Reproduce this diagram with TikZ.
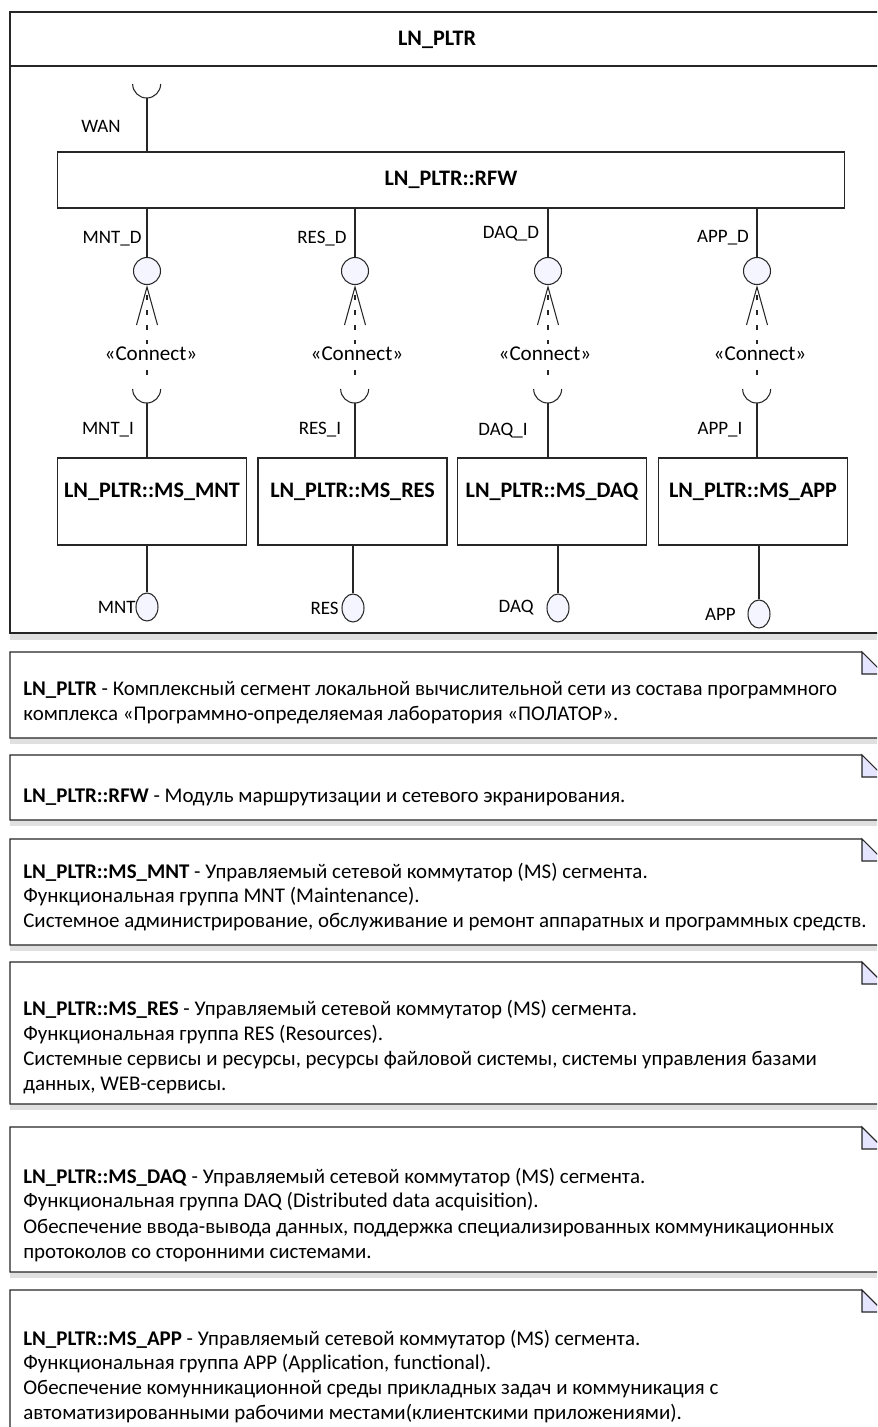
\documentclass[tikz,border=0pt]{standalone}
\usepackage{fontspec}
\setmainfont{Carlito}
\usetikzlibrary{arrows.meta,shapes.geometric}

\begin{document}
\begin{tikzpicture}
    [%%%%%%%%%%%%%%%%%%%%%%%%%%%%%%
        x=0.02cm, y=-0.02cm,
        line/.style={draw=black!85, semithick},
        box/.style={rectangle, draw=black!85, semithick, fill=white, inner sep=0pt, font=\fontsize{12.6}{14}\selectfont\bfseries},
        msbox/.style={box, minimum width=3.78cm, text height=0.78cm, text depth=0.96cm},
        ball/.style={circle, draw=black!85, semithick, fill=blue!4, minimum size=0.54cm, inner sep=0pt},
        oval/.style={ellipse, draw=black!85, semithick, fill=blue!4, minimum width=0.44cm, minimum height=0.56cm, inner sep=0pt},
        cup/.style={circle, minimum size=0.56cm, inner sep=0pt},
        lbl/.style={inner sep=0pt, font=\fontsize{10.8}{12}\selectfont},
        conn/.style={inner sep=1.5pt, fill=white, font=\fontsize{12}{14}\selectfont},
        dep/.style={draw=black!85, semithick, dash pattern=on 0.1cm off 0.2cm, -{Straight Barb[length=0.76cm, width=0.42cm]}},
        note/.style={draw=black!85, semithick, fill=white},
        fold/.style={draw=black!85, semithick, fill=blue!10},
        shade/.style={fill=black!12},
        notetxt/.style={anchor=west, inner sep=0pt, text height=1.6ex, text depth=0.4ex, font=\fontsize{11.9}{13}\selectfont},
    ]%%%%%%%%%%%%%%%%%%%%%%%%%%%%%%
\useasboundingbox (0,0) rectangle (877,1427);
\clip (0,0) rectangle (877,1427);
\fill[white] (0,0) rectangle (877,1427);

% component frame
\fill[shade] (10,633) rectangle (884,640);
\draw[line] (10,12) rectangle (884,633);
\draw[line] (10,66) -- (884,66);
\node[font=\fontsize{12.6}{14}\selectfont\bfseries] (title) at (437,40) {LN\_PLTR};

% router
\node[box, minimum width=15.76cm, minimum height=1.12cm] (rfw) at (451,180) {LN\_PLTR::RFW};
\node[cup] (wanI) at (147,84) {};
\draw[line] (wanI.west) arc[start angle=180, end angle=0, radius=14];
\draw[line] (wanI.south) -- (wanI.south |- rfw.north);
\node[lbl] (wanL) at (101,126) {WAN};

% switches
\node[msbox] (mnt) at (152,501.5) {LN\_PLTR::MS\_MNT};
\node[msbox] (res) at (352.5,501.5) {LN\_PLTR::MS\_RES};
\node[msbox] (daq) at (552,501.5) {LN\_PLTR::MS\_DAQ};
\node[msbox] (app) at (753,501.5) {LN\_PLTR::MS\_APP};

% provided ports of the router
\node[ball] (mntD) at (147,271) {};
\node[ball] (resD) at (355,271) {};
\node[ball] (daqD) at (548,271) {};
\node[ball] (appD) at (757,271) {};
\draw[line] (rfw.south -| mntD) -- (mntD);
\draw[line] (rfw.south -| resD) -- (resD);
\draw[line] (rfw.south -| daqD) -- (daqD);
\draw[line] (rfw.south -| appD) -- (appD);
\node[lbl] (mntDl) at (112,239) {MNT\_D};
\node[lbl] (resDl) at (322,239) {RES\_D};
\node[lbl] (daqDl) at (511,234) {DAQ\_D};
\node[lbl] (appDl) at (723,238) {APP\_D};

% required ports of the switches
\node[cup] (mntI) at (147,389) {};
\node[cup] (resI) at (355,389) {};
\node[cup] (daqI) at (548,389) {};
\node[cup] (appI) at (757,389) {};
\draw[line] (mntI.west) arc[start angle=180, end angle=0, radius=14];
\draw[line] (resI.west) arc[start angle=180, end angle=0, radius=14];
\draw[line] (daqI.west) arc[start angle=180, end angle=0, radius=14];
\draw[line] (appI.west) arc[start angle=180, end angle=0, radius=14];
\draw[line] (mntI.south) -- (mntI.south |- mnt.north);
\draw[line] (resI.south) -- (resI.south |- res.north);
\draw[line] (daqI.south) -- (daqI.south |- daq.north);
\draw[line] (appI.south) -- (appI.south |- app.north);
\node[lbl] (mntIl) at (108,430) {MNT\_I};
\node[lbl] (resIl) at (320,430) {RES\_I};
\node[lbl] (daqIl) at (503,431) {DAQ\_I};
\node[lbl] (appIl) at (720,430) {APP\_I};

% connect dependencies
\draw[dep] (mntI) -- (mntD);
\draw[dep] (resI) -- (resD);
\draw[dep] (daqI) -- (daqD);
\draw[dep] (appI) -- (appD);
\node[conn] (mntC) at (151,354) {«Connect»};
\node[conn] (resC) at (357,354) {«Connect»};
\node[conn] (daqC) at (545,354) {«Connect»};
\node[conn] (appC) at (760,354) {«Connect»};

% external ports
\node[oval] (mntO) at (147,607) {};
\node[oval] (resO) at (353,608) {};
\node[oval] (daqO) at (558,608) {};
\node[oval] (appO) at (759,614) {};
\draw[line] (mnt.south -| mntO) -- (mntO);
\draw[line] (res.south -| resO) -- (resO);
\draw[line] (daq.south -| daqO) -- (daqO);
\draw[line] (app.south -| appO) -- (appO);
\node[lbl, anchor=east] (mntOl) at (136,607) {MNT};
\node[lbl, anchor=east] (resOl) at (339,608) {RES};
\node[lbl, anchor=east] (daqOl) at (534,608) {DAQ};
\node[lbl, anchor=east] (appOl) at (736,614) {APP};

% notes
\fill[shade] (10,738) rectangle (884,744);
\draw[note] (10,652) -- (862,652) -- (884,674) -- (884,738) -- (10,738) -- cycle;
\draw[fold] (862,652) -- (862,674) -- (884,674) -- cycle;
\node[notetxt] (n1a) at (23,690) {\textbf{LN\_PLTR} - Комплексный сегмент локальной вычислительной сети из состава программного};
\node[notetxt] (n1b) at (23,715) {комплекса «Программно-определяемая лаборатория «ПОЛАТОР».};

\fill[shade] (10,820) rectangle (884,826);
\draw[note] (10,755) -- (862,755) -- (884,777) -- (884,820) -- (10,820) -- cycle;
\draw[fold] (862,755) -- (862,777) -- (884,777) -- cycle;
\node[notetxt] (n2a) at (23,797) {\textbf{LN\_PLTR::RFW} - Модуль маршрутизации и сетевого экранирования.};

\fill[shade] (10,945) rectangle (884,951);
\draw[note] (10,839) -- (862,839) -- (884,861) -- (884,945) -- (10,945) -- cycle;
\draw[fold] (862,839) -- (862,861) -- (884,861) -- cycle;
\node[notetxt] (n3a) at (23,873) {\textbf{LN\_PLTR::MS\_MNT} - Управляемый сетевой коммутатор (MS) сегмента.};
\node[notetxt] (n3b) at (23,897) {Функциональная группа MNT (Maintenance).};
\node[notetxt] (n3c) at (23,922) {Системное администрирование, обслуживание и ремонт аппаратных и программных средств.};

\fill[shade] (10,1104) rectangle (884,1110);
\draw[note] (10,962) -- (862,962) -- (884,984) -- (884,1104) -- (10,1104) -- cycle;
\draw[fold] (862,962) -- (862,984) -- (884,984) -- cycle;
\node[notetxt] (n4a) at (23,1010) {\textbf{LN\_PLTR::MS\_RES} - Управляемый сетевой коммутатор (MS) сегмента.};
\node[notetxt] (n4b) at (23,1035) {Функциональная группа RES (Resources).};
\node[notetxt] (n4c) at (23,1060) {Системные сервисы и ресурсы, ресурсы файловой системы, системы управления базами};
\node[notetxt] (n4d) at (23,1085) {данных, WEB-сервисы.};

\fill[shade] (10,1272) rectangle (884,1278);
\draw[note] (10,1127) -- (862,1127) -- (884,1149) -- (884,1272) -- (10,1272) -- cycle;
\draw[fold] (862,1127) -- (862,1149) -- (884,1149) -- cycle;
\node[notetxt] (n5a) at (23,1178) {\textbf{LN\_PLTR::MS\_DAQ} - Управляемый сетевой коммутатор (MS) сегмента.};
\node[notetxt] (n5b) at (23,1202) {Функциональная группа DAQ (Distributed data acquisition).};
\node[notetxt] (n5c) at (23,1228) {Обеспечение ввода-вывода данных, поддержка специализированных коммуникационных};
\node[notetxt] (n5d) at (23,1253) {протоколов со сторонними системами.};

\draw[note] (10,1290) -- (862,1290) -- (884,1312) -- (884,1440) -- (10,1440) -- cycle;
\draw[fold] (862,1290) -- (862,1312) -- (884,1312) -- cycle;
\node[notetxt] (n6a) at (23,1340) {\textbf{LN\_PLTR::MS\_APP} - Управляемый сетевой коммутатор (MS) сегмента.};
\node[notetxt] (n6b) at (23,1364) {Функциональная группа APP (Application, functional).};
\node[notetxt] (n6c) at (23,1389) {Обеспечение комунникационной среды прикладных задач и коммуникация с};
\node[notetxt] (n6d) at (23,1414) {автоматизированными рабочими местами(клиентскими приложениями).};

\end{tikzpicture}
\end{document}
